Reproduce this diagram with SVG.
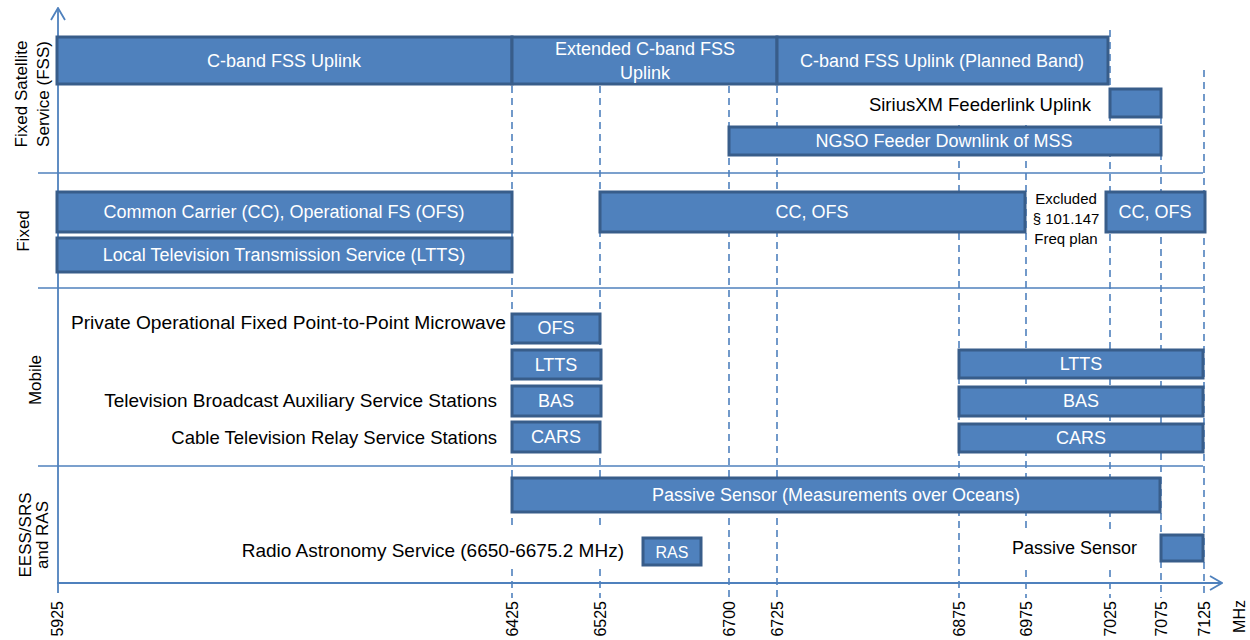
<svg xmlns="http://www.w3.org/2000/svg" width="1250" height="640" viewBox="0 0 1250 640">
<defs>
<style>
.box{fill:#4f81bd;stroke:#385d8a;stroke-width:3}
.wt{fill:#ffffff;font-family:"Liberation Sans",Arial,sans-serif;font-size:18px;text-anchor:middle;dominant-baseline:central}
.bt{fill:#000000;font-family:"Liberation Sans",Arial,sans-serif;font-size:18.5px;text-anchor:end;dominant-baseline:central}
.cat{fill:#000000;font-family:"Liberation Sans",Arial,sans-serif;font-size:17px;text-anchor:middle}
.tick{fill:#000000;font-family:"Liberation Sans",Arial,sans-serif;font-size:16px;text-anchor:end}
.dash{stroke:#4f81bd;stroke-width:1.6;stroke-dasharray:7 5;fill:none}
.sep{stroke:#4f81bd;stroke-width:1.6;fill:none}
.axis{stroke:#4f81bd;stroke-width:1.8;fill:none}
</style>
<marker id="arr" viewBox="0 0 14 16" refX="13" refY="8" markerWidth="14" markerHeight="16" markerUnits="userSpaceOnUse" orient="auto">
<path d="M1,1 L13,8 L1,15" fill="none" stroke="#4f81bd" stroke-width="1.8"/>
</marker>
</defs>
<rect width="1250" height="640" fill="#ffffff"/>

<g id="connectors">
<path class="dash" d="M512,86 V530 M512,569 V598"/>
<path class="dash" d="M600,86 V530 M600,569 V598"/>
<line class="dash" x1="729" y1="86" x2="729" y2="598"/>
<line class="dash" x1="777" y1="86" x2="777" y2="598"/>
<line class="dash" x1="959" y1="125" x2="959" y2="598"/>
<path class="dash" d="M1026,125 V531 M1026,570 V598"/>
<path class="dash" d="M1110,30 V531 M1110,570 V598"/>
<line class="dash" x1="1161" y1="117" x2="1161" y2="598"/>
<line class="dash" x1="1204" y1="70" x2="1204" y2="598"/>
<line class="sep" x1="38" y1="173" x2="1203" y2="173"/>
<line class="sep" x1="38" y1="288" x2="1203" y2="288"/>
<line class="sep" x1="38" y1="466" x2="1203" y2="466"/>
<line class="axis" x1="58" y1="593" x2="58" y2="8" marker-end="url(#arr)"/>
<line class="axis" x1="57" y1="583" x2="1222" y2="583" marker-end="url(#arr)"/>
</g>

<g id="categories">
<text class="cat" transform="translate(27,94) rotate(-90)">Fixed Satellite</text>
<text class="cat" transform="translate(49,94) rotate(-90)">Service (FSS)</text>
<text class="cat" transform="translate(29,231) rotate(-90)">Fixed</text>
<text class="cat" transform="translate(41,380) rotate(-90)">Mobile</text>
<text class="cat" transform="translate(31,535) rotate(-90)">EESS/SRS</text>
<text class="cat" transform="translate(48,535) rotate(-90)">and RAS</text>
</g>

<g id="ticks">
<text class="tick" transform="translate(63,601) rotate(-90)">5925</text>
<text class="tick" transform="translate(518,601) rotate(-90)">6425</text>
<text class="tick" transform="translate(606,601) rotate(-90)">6525</text>
<text class="tick" transform="translate(735,601) rotate(-90)">6700</text>
<text class="tick" transform="translate(783,601) rotate(-90)">6725</text>
<text class="tick" transform="translate(965,601) rotate(-90)">6875</text>
<text class="tick" transform="translate(1032,601) rotate(-90)">6975</text>
<text class="tick" transform="translate(1116,601) rotate(-90)">7025</text>
<text class="tick" transform="translate(1167,601) rotate(-90)">7075</text>
<text class="tick" transform="translate(1210,601) rotate(-90)">7125</text>
<text class="tick" transform="translate(1245,600) rotate(-90)">MHz</text>
</g>

<g id="fss-cband-uplink">
<rect class="box" x="57" y="37" width="455" height="47"/>
<text class="wt" x="284" y="61">C-band FSS Uplink</text>
</g>
<g id="fss-extended">
<rect class="box" x="512" y="37" width="265" height="47"/>
<text class="wt" x="645" y="49">Extended C-band FSS</text>
<text class="wt" x="645" y="73">Uplink</text>
</g>
<g id="fss-planned">
<rect class="box" x="777" y="37" width="331" height="47"/>
<text class="wt" x="942" y="61">C-band FSS Uplink (Planned Band)</text>
</g>
<g id="fss-siriusxm">
<rect class="box" x="1110" y="89" width="51" height="28"/>
<text class="bt" x="1091" y="104">SiriusXM Feederlink Uplink</text>
</g>
<g id="fss-ngso">
<rect class="box" x="729" y="127" width="432" height="28"/>
<text class="wt" x="944" y="141">NGSO Feeder Downlink of MSS</text>
</g>

<g id="fixed-cc-ofs-1">
<rect class="box" x="57" y="192" width="455" height="40"/>
<text class="wt" x="284" y="212">Common Carrier (CC), Operational FS (OFS)</text>
</g>
<g id="fixed-ltts">
<rect class="box" x="57" y="238" width="455" height="34"/>
<text class="wt" x="284" y="255">Local Television Transmission Service (LTTS)</text>
</g>
<g id="fixed-cc-ofs-2">
<rect class="box" x="600" y="192" width="425" height="40"/>
<text class="wt" x="812" y="212">CC, OFS</text>
</g>
<g id="fixed-excluded">
<text x="1066" y="204" font-family="'Liberation Sans',Arial,sans-serif" font-size="15" text-anchor="middle">Excluded</text>
<text x="1066" y="224" font-family="'Liberation Sans',Arial,sans-serif" font-size="15" text-anchor="middle">§ 101.147</text>
<text x="1066" y="244" font-family="'Liberation Sans',Arial,sans-serif" font-size="15" text-anchor="middle">Freq plan</text>
</g>
<g id="fixed-cc-ofs-3">
<rect class="box" x="1106" y="192" width="99" height="40"/>
<text class="wt" x="1155" y="212">CC, OFS</text>
</g>

<g id="mobile-ofs">
<rect class="box" x="512" y="314" width="88" height="29"/>
<text class="wt" x="556" y="328">OFS</text>
<text class="bt" x="506" y="322" style="font-size:19.2px">Private Operational Fixed Point-to-Point Microwave</text>
</g>
<g id="mobile-ltts-1">
<rect class="box" x="512" y="350" width="89" height="29"/>
<text class="wt" x="556" y="365">LTTS</text>
</g>
<g id="mobile-bas-1">
<rect class="box" x="512" y="386" width="89" height="30"/>
<text class="wt" x="556" y="401">BAS</text>
<text class="bt" x="497" y="400" style="font-size:19px">Television  Broadcast Auxiliary Service Stations</text>
</g>
<g id="mobile-cars-1">
<rect class="box" x="512" y="422" width="88" height="30"/>
<text class="wt" x="556" y="437">CARS</text>
<text class="bt" x="497" y="437">Cable Television  Relay Service Stations</text>
</g>
<g id="mobile-ltts-2">
<rect class="box" x="959" y="350" width="244" height="28"/>
<text class="wt" x="1081" y="364">LTTS</text>
</g>
<g id="mobile-bas-2">
<rect class="box" x="959" y="387" width="244" height="29"/>
<text class="wt" x="1081" y="401">BAS</text>
</g>
<g id="mobile-cars-2">
<rect class="box" x="959" y="424" width="244" height="28"/>
<text class="wt" x="1081" y="438">CARS</text>
</g>

<g id="eess-passive-oceans">
<rect class="box" x="512" y="478" width="648" height="34"/>
<text class="wt" x="836" y="495">Passive Sensor (Measurements over Oceans)</text>
</g>
<g id="eess-ras">
<rect class="box" x="643" y="538" width="58" height="27"/>
<text class="wt" x="672" y="552" style="font-size:16px">RAS</text>
<text class="bt" x="624" y="550" style="font-size:19px">Radio Astronomy Service (6650-6675.2 MHz)</text>
</g>
<g id="eess-passive-sensor">
<rect class="box" x="1161" y="535" width="42" height="26"/>
<text class="bt" x="1137" y="548" style="font-size:18px">Passive Sensor</text>
</g>
</svg>
